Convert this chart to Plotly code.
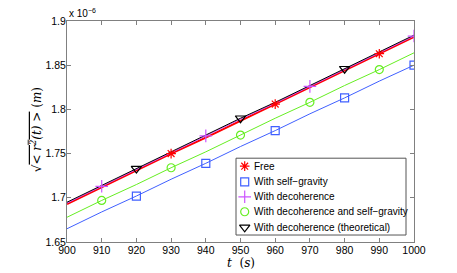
import plotly.graph_objects as go

t = [900, 910, 920, 930, 940, 950, 960, 970, 980, 990, 1000]
free = [1.693, 1.712, 1.731, 1.750, 1.768, 1.787, 1.806, 1.825, 1.844, 1.863, 1.882]
self_grav = [1.665, 1.684, 1.702, 1.721, 1.739, 1.758, 1.776, 1.795, 1.813, 1.832, 1.850]
deco = [1.694, 1.713, 1.732, 1.751, 1.770, 1.789, 1.807, 1.826, 1.845, 1.864, 1.883]
deco_sg = [1.678, 1.697, 1.715, 1.734, 1.752, 1.771, 1.790, 1.808, 1.827, 1.845, 1.864]
deco_th = [1.695, 1.714, 1.733, 1.752, 1.771, 1.790, 1.808, 1.827, 1.846, 1.865, 1.884]

series = [
    ("Free", free, "#ff0000", "asterisk-open", [930, 960, 990], 2.0, 8),
    ("With self\u2212gravity", self_grav, "#4060ff", "square-open", [920, 940, 960, 980, 1000], 1.0, 8),
    ("With decoherence", deco, "#cc55ff", "cross-thin-open", [910, 940, 970, 1000], 1.0, 9),
    ("With decoherence and self\u2212gravity", deco_sg, "#66ee22", "circle-open", [910, 930, 950, 970, 990], 1.0, 8),
    ("With decoherence (theoretical)", deco_th, "#000000", "triangle-down-open", [920, 950, 980], 1.0, 9),
]

# page offset from the default 8px body margin
OFF = 8
# plot area in page pixels
PL, PR, PT, PB = 67, 414, 20.5, 242
W, H = 441, 265
L, R, T, B = PL - OFF, PR - OFF, PT - OFF, PB - OFF

def px_x(xp):
    return (xp - PL) / (PR - PL)

def px_y(yp):
    return (PB - yp) / (PB - PT)

fig = go.Figure()
for name, ys, col, sym, mk, w, sz in series:
    fig.add_trace(go.Scatter(x=t, y=ys, mode="lines", line=dict(color=col, width=w),
                             showlegend=False, hoverinfo="skip"))
for name, ys, col, sym, mk, w, sz in series:
    mx = [tt for tt in t if tt in mk]
    my = [y for tt, y in zip(t, ys) if tt in mk]
    fig.add_trace(go.Scatter(x=mx, y=my, mode="markers", name=name, showlegend=False,
                             marker=dict(symbol=sym, size=sz, color=col,
                                         line=dict(color=col, width=1.2))))

# manual legend (compact like the reference)
item_y_px = [166, 181.7, 196.7, 211.7, 227.3]
mark_x = px_x(244.7)
text_x = px_x(252)
shapes = [dict(type="rect", xref="paper", yref="paper",
               x0=px_x(236), x1=px_x(406), y0=px_y(235), y1=px_y(158),
               line=dict(color="#555", width=1), fillcolor="white", layer="below")]
annotations = []
for (name, ys, col, sym, mk, w, sz), ypx in zip(series, item_y_px):
    yp = px_y(ypx)
    fig.add_trace(go.Scatter(x=[mark_x], y=[yp], xaxis="x2", yaxis="y2", mode="markers",
                             showlegend=False, hoverinfo="skip",
                             marker=dict(symbol=sym, size=sz, color=col,
                                         line=dict(color=col, width=1.2))))
    annotations.append(dict(x=text_x, y=yp, xref="paper", yref="paper", xanchor="left",
                            yanchor="middle", text=name, showarrow=False,
                            font=dict(family="Liberation Sans, Arial", size=10, color="#000")))

annotations.append(dict(x=0, y=1, xref="paper", yref="paper", xanchor="left", yanchor="bottom",
                        text="x 10<sup>\u22126</sup>", showarrow=False,
                        font=dict(family="Liberation Sans, Arial", size=10, color="#000")))
annotations.append(dict(x=0.5, y=px_y(263), xref="paper", yref="paper",
                        xanchor="center", yanchor="middle",
                        text="<i>t</i>  (<i>s</i>)", showarrow=False,
                        font=dict(family="DejaVu Serif", size=12, color="#000")))
annotations.append(dict(x=px_x(36), y=px_y(130), xref="paper", yref="paper",
                        xanchor="center", yanchor="middle", textangle=-90,
                        text="\u221a<span style='text-decoration:overline'><i>&lt; r<sup>2</sup>(t) &gt;</i></span> (<i>m</i>)",
                        showarrow=False,
                        font=dict(family="DejaVu Serif", size=12, color="#000")))

axis_common = dict(showgrid=False, zeroline=False, showline=True, linecolor="#808080",
                   linewidth=1, mirror="ticks", ticks="inside", ticklen=4, automargin=False,
                   ticklabelstandoff=-2,
                   tickcolor="#808080", tickfont=dict(family="Liberation Sans, Arial", size=10.5, color="#000"))

fig.update_layout(
    width=W, height=H,
    margin=dict(l=L, r=W - R, t=T, b=H - B, autoexpand=False),
    paper_bgcolor="white", plot_bgcolor="white",
    showlegend=False,
    xaxis=dict(range=[900, 1000], tickvals=t, ticktext=[str(v) for v in t],
               **axis_common),
    yaxis=dict(range=[1.65, 1.9], tickvals=[1.65, 1.7, 1.75, 1.8, 1.85, 1.9],
               ticktext=["1.65", "1.7", "1.75", "1.8", "1.85", "1.9"],
               **axis_common),
    xaxis2=dict(overlaying="x", range=[0, 1], visible=False, fixedrange=True),
    yaxis2=dict(overlaying="y", range=[0, 1], visible=False, fixedrange=True),
    shapes=shapes,
    annotations=annotations,
)

fig.write_html("out.html")
